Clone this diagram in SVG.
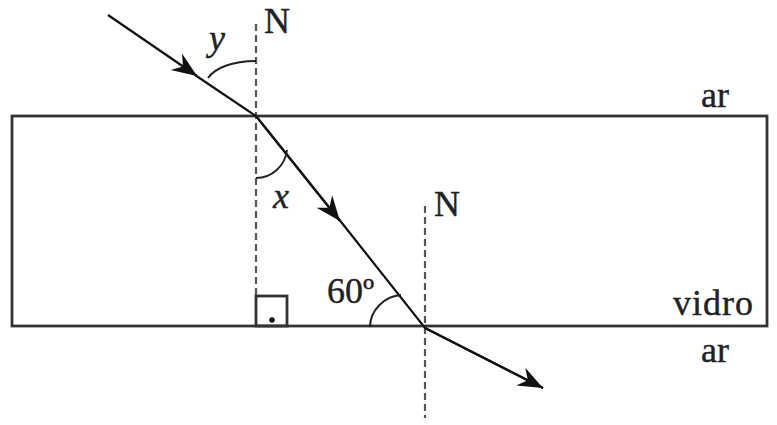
<svg xmlns="http://www.w3.org/2000/svg" width="777" height="425" viewBox="0 0 777 425">
<defs>
<marker id="arr" markerWidth="32" markerHeight="24" viewBox="-28 -12 30 24" refX="0" refY="0" orient="auto" markerUnits="userSpaceOnUse">
<path d="M0,0 L-25,-10 L-17,0 L-25,10 Z" fill="#111"/>
</marker>
<style>
.ray{fill:none;stroke:#111;stroke-width:2.2}
.norm{fill:none;stroke:#555;stroke-width:2.2;stroke-dasharray:7 4}
.arc{fill:none;stroke:#222;stroke-width:2}
.box{fill:none;stroke:#333;stroke-width:2.8}
.lbl{font-family:"Liberation Serif","Times New Roman",serif;font-size:36px;fill:#222;stroke:#222;stroke-width:0.4}
.it{font-style:italic}
</style>
</defs>
<rect id="glass" class="box" x="12" y="116" width="755" height="210"/>
<g id="normals">
<line class="norm" x1="256" y1="24" x2="256" y2="296"/>
<line class="norm" x1="425" y1="206" x2="425" y2="418"/>
</g>
<g id="rightangle">
<rect class="box" x="256" y="296" width="31" height="30" stroke-width="2"/>
<circle cx="272" cy="320" r="2.8" fill="#111"/>
</g>
<g id="connectors">
<path class="ray" d="M108 15 L197 76" marker-end="url(#arr)"/>
<path class="ray" d="M195 75 L256 116 L340 221"/>
<path class="ray" d="M256 116 L340 221" marker-end="url(#arr)"/>
<path class="ray" d="M338 218 L425 328 L543 388"/>
<path class="ray" d="M425 328 L543 388" marker-end="url(#arr)"/>
</g>
<g id="arcs">
<path class="arc" d="M256 61 C232 61 215 68 208 78"/>
<path class="arc" d="M256 178 C272 178 285 166 287 150"/>
<path class="arc" d="M370 327 C370 310 385 296 401 295"/>
</g>
<g id="labels">
<text class="lbl" x="264" y="33">N</text>
<text class="lbl" x="434" y="216">N</text>
<text class="lbl it" x="209" y="50">y</text>
<text class="lbl it" x="273" y="208">x</text>
<text class="lbl" x="327" y="303">60º</text>
<text class="lbl" x="701" y="107">ar</text>
<text class="lbl" x="673" y="315" textLength="80">vidro</text>
<text class="lbl" x="701" y="362">ar</text>
</g>
</svg>
